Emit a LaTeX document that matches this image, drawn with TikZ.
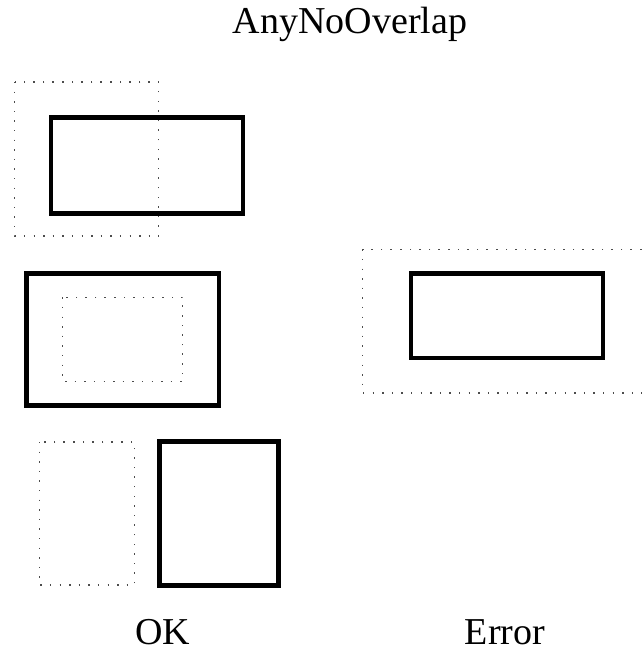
\documentclass[tikz,border=0pt]{standalone}
\usepackage{fontspec}
\setmainfont{Liberation Serif}
\usepackage{tikz}

\begin{document}
\begin{tikzpicture}[x=0.75pt, y=-0.75pt,
    solidbox/.style={draw=black, line width=3.5pt},
    dotbox/.style={draw=black!70, line width=1.1pt, dash pattern=on 1.1pt off 6.1pt},
    label/.style={anchor=base, inner sep=0pt, font=\fontsize{28.5}{34}\selectfont}]
    \clip (0,0) rectangle (642,650);

    % Title
    \node[label] (title) at (350,33) {AnyNoOverlap};

    % OK cases
    \draw[dotbox] (14.7,82) rectangle (158.7,236);
    \draw[solidbox] (51,117.7) rectangle (243,213.5);

    \draw[solidbox] (26.8,273.8) rectangle (219,405.7);
    \draw[dotbox] (62.7,297.3) rectangle (182.7,381.3);

    \draw[dotbox] (39.3,442) rectangle (134.7,585);
    \draw[solidbox] (159.3,441.8) rectangle (278.8,585.7);

    % Error case
    \draw[dotbox] (362.7,249.3) rectangle (680,393);
    \draw[solidbox] (411,273.7) rectangle (603,358);

    % Labels
    \node[label] (okLabel) at (163,644) {OK};
    \node[label] (errorLabel) at (505,644) {Error};
\end{tikzpicture}
\end{document}
